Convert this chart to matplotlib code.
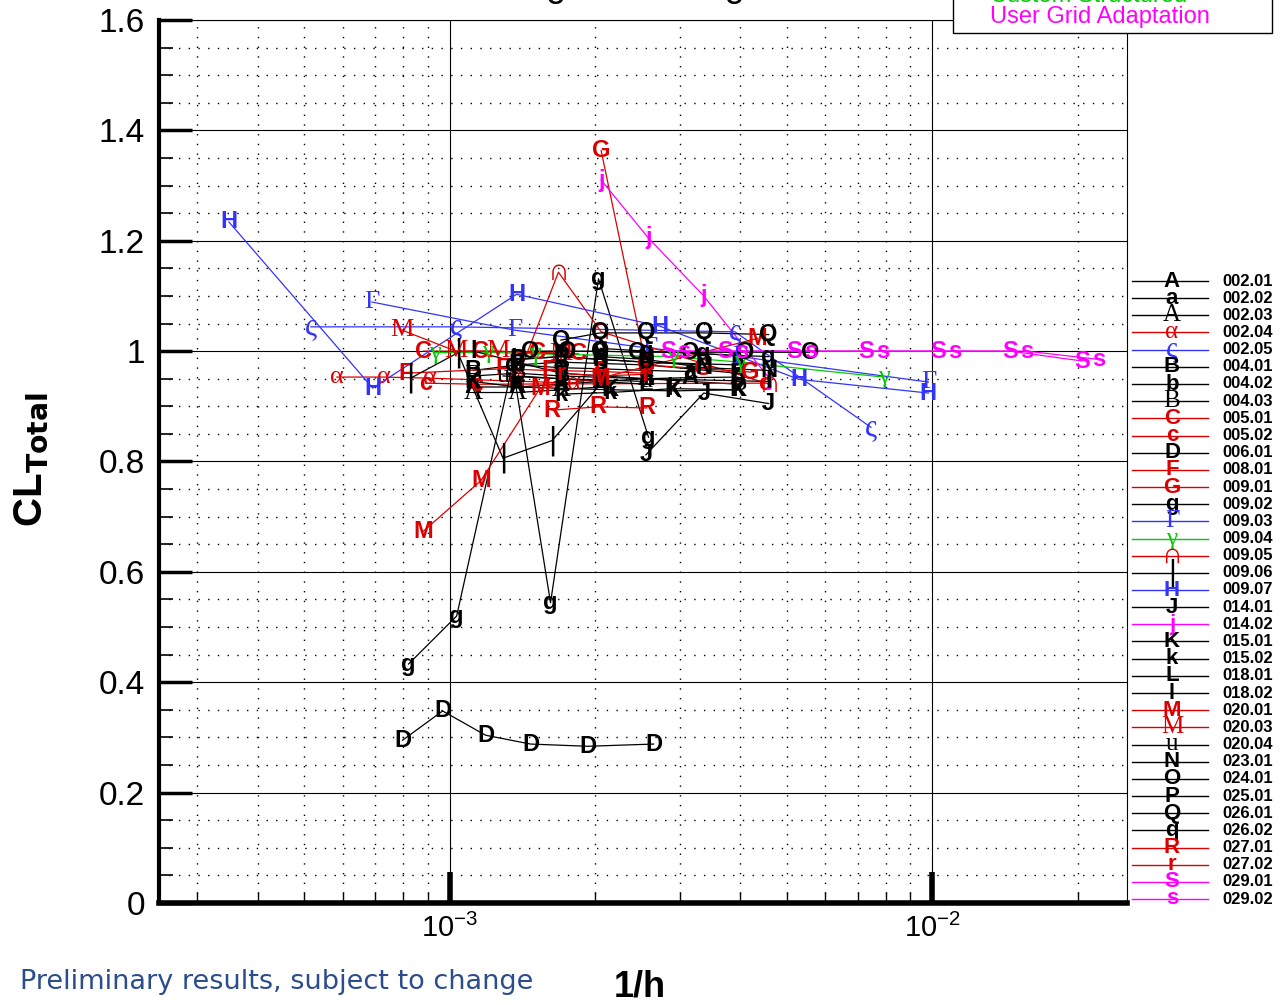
import matplotlib
matplotlib.use('Agg')
import matplotlib.pyplot as plt
import numpy as np
from matplotlib.lines import Line2D
from matplotlib.patches import Rectangle
from matplotlib.ticker import LogLocator, NullFormatter, MultipleLocator

plt.rcParams['font.family'] = ['Liberation Sans', 'DejaVu Sans']

# colours
BLK = 'black'
RED = '#dd0000'
BLU = '#3333ff'
GRN = '#00cc00'
MAG = '#ff00ff'

# legend order: label, marker char, colour
labels = ['002.01', '002.02', '002.03', '002.04', '002.05', '004.01', '004.02', '004.03',
          '005.01', '005.02', '006.01', '008.01', '009.01', '009.02', '009.03', '009.04',
          '009.05', '009.06', '009.07', '014.01', '014.02', '015.01', '015.02', '018.01',
          '018.02', '020.01', '020.03', '020.04', '023.01', '024.01', '025.01', '026.01',
          '026.02', '027.01', '027.02', '029.01', '029.02']
markers = ['A', 'a', 'A', 'α', 'ς', 'B', 'b', 'B', 'C', 'c', 'D', 'F', 'G', 'g', 'Γ', 'γ',
           '∩', '|', 'H', 'J', 'j', 'K', 'k', 'L', 'l', 'M', 'M', 'u', 'N', 'O', 'P', 'Q',
           'q', 'R', 'r', 'S', 's']
colors = [BLK, BLK, BLK, RED, BLU, BLK, BLK, BLK, RED, RED, BLK, RED, RED, BLK, BLU, GRN,
          RED, BLK, BLU, BLK, MAG, BLK, BLK, BLK, BLK, RED, RED, BLK, BLK, BLK, BLK, BLK,
          BLK, RED, RED, MAG, MAG]
serif = {'002.03', '002.04', '002.05', '004.03', '009.03', '009.04', '009.05', '020.03', '020.04'}

# data: 1/h and CL_Total per case
x_data = {
    '002.01': [1.12e-3, 1.38e-3, 1.70e-3, 2.05e-3, 2.55e-3, 3.15e-3, 3.95e-3],
    '002.02': [1.38e-3, 1.70e-3, 2.05e-3, 2.55e-3, 3.15e-3],
    '002.03': [1.12e-3, 1.38e-3, 1.70e-3, 2.05e-3],
    '002.04': [5.84e-4, 7.3e-4, 9.09e-4, 1.81e-3],
    '002.05': [5.16e-4, 1.03e-3, 3.9e-3, 7.46e-3],
    '004.01': [1.12e-3, 1.38e-3, 1.70e-3, 2.55e-3, 3.95e-3],
    '004.02': [1.38e-3, 1.70e-3, 2.05e-3, 2.55e-3, 3.95e-3],
    '004.03': [1.12e-3, 1.38e-3, 1.70e-3, 2.55e-3, 3.95e-3],
    '005.01': [8.83e-4, 1.16e-3, 1.52e-3, 1.85e-3],
    '005.02': [8.9e-4, 1.14e-3, 4.5e-3],
    '006.01': [7.99e-4, 9.67e-4, 1.187e-3, 1.471e-3, 1.931e-3, 2.645e-3],
    '008.01': [8.1e-4, 1.29e-3, 1.6e-3, 2.05e-3, 2.55e-3],
    '009.01': [2.06e-3, 2.55e-3, 3.36e-3, 4.2e-3],
    '009.02': [8.22e-4, 1.034e-3, 1.35e-3, 1.618e-3, 2.034e-3, 2.582e-3],
    '009.03': [6.9e-4, 1.363e-3, 2.6e-3, 4.0e-3, 9.81e-3],
    '009.04': [9.3e-4, 1.2e-3, 1.5e-3, 2.9e-3, 4.0e-3, 7.92e-3],
    '009.05': [1.38e-3, 1.68e-3, 2.06e-3, 4.6e-3],
    '009.06': [8.3e-4, 1.04e-3, 1.29e-3, 1.63e-3, 2.1e-3],
    '009.07': [3.49e-4, 6.93e-4, 1.376e-3, 2.73e-3, 5.28e-3, 9.81e-3],
    '014.01': [2.55e-3, 3.36e-3, 4.58e-3],
    '014.02': [2.06e-3, 2.58e-3, 3.36e-3, 4.6e-3],
    '015.01': [1.12e-3, 1.38e-3, 2.15e-3, 2.9e-3, 3.95e-3],
    '015.02': [1.70e-3, 2.15e-3, 2.9e-3, 3.95e-3],
    '018.01': [1.38e-3, 1.70e-3, 2.05e-3, 2.55e-3],
    '018.02': [1.12e-3, 1.70e-3, 2.55e-3, 4.58e-3],
    '020.01': [8.83e-4, 1.16e-3, 1.54e-3, 2.05e-3, 4.34e-3],
    '020.03': [7.97e-4, 1.03e-3, 1.26e-3, 1.70e-3],
    '020.04': [1.29e-3, 1.70e-3, 2.55e-3],
    '023.01': [2.05e-3, 2.55e-3, 3.36e-3, 4.58e-3],
    '024.01': [1.47e-3, 1.75e-3, 2.05e-3, 2.45e-3, 3.15e-3, 4.1e-3, 5.57e-3],
    '025.01': [1.38e-3, 1.70e-3, 2.05e-3, 2.55e-3, 3.36e-3],
    '026.01': [1.70e-3, 2.05e-3, 2.55e-3, 3.36e-3, 4.58e-3],
    '026.02': [2.05e-3, 2.55e-3, 3.36e-3, 4.58e-3],
    '027.01': [1.63e-3, 2.03e-3, 2.56e-3],
    '027.02': [1.70e-3, 2.05e-3, 2.55e-3],
    '029.01': [2.83e-3, 3.73e-3, 5.18e-3, 7.30e-3, 1.029e-2, 1.451e-2, 2.045e-2],
    '029.02': [3.05e-3, 4.03e-3, 5.59e-3, 7.88e-3, 1.11e-2, 1.565e-2, 2.21e-2],
}
cl_data = {
    '002.01': [0.935, 0.935, 0.94, 0.945, 0.95, 0.952, 0.953],
    '002.02': [0.975, 0.97, 0.968, 0.965, 0.963],
    '002.03': [0.925, 0.925, 0.93, 0.935],
    '002.04': [0.953, 0.953, 0.951, 0.942],
    '002.05': [1.044, 1.044, 1.035, 0.862],
    '004.01': [0.965, 0.975, 0.98, 0.975, 0.96],
    '004.02': [0.985, 0.99, 0.985, 0.98, 0.975],
    '004.03': [0.955, 0.96, 0.955, 0.95, 0.94],
    '005.01': [1.0, 1.0, 0.998, 0.995],
    '005.02': [0.942, 0.94, 0.942],
    '006.01': [0.295, 0.348, 0.304, 0.288, 0.284, 0.288],
    '008.01': [0.96, 0.968, 0.965, 0.963, 0.96],
    '009.01': [1.363, 0.975, 0.968, 0.962],
    '009.02': [0.433, 0.52, 0.975, 0.544, 1.131, 0.844],
    '009.03': [1.089, 1.038, 1.005, 0.99, 0.944],
    '009.04': [0.997, 0.998, 0.995, 0.99, 0.98, 0.953],
    '009.05': [0.95, 1.143, 1.035, 0.94],
    '009.06': [0.951, 0.997, 0.806, 0.838, 0.95],
    '009.07': [1.234, 0.933, 1.103, 1.045, 0.949, 0.924],
    '014.01': [0.812, 0.924, 0.905],
    '014.02': [1.31, 1.205, 1.10, 0.95],
    '015.01': [0.945, 0.935, 0.93, 0.928, 0.93],
    '015.02': [0.922, 0.925, 0.932, 0.93],
    '018.01': [0.955, 0.95, 0.945, 0.94],
    '018.02': [1.0, 0.96, 0.95, 0.945],
    '020.01': [0.674, 0.765, 0.933, 0.951, 1.023],
    '020.03': [1.038, 1.0, 1.0, 0.995],
    '020.04': [0.955, 0.95, 0.945],
    '023.01': [0.99, 0.985, 0.97, 0.965],
    '024.01': [1.0, 1.0, 1.0, 0.998, 0.998, 0.998, 0.998],
    '025.01': [0.985, 0.99, 0.985, 0.98, 0.975],
    '026.01': [1.02, 1.033, 1.033, 1.033, 1.03],
    '026.02': [1.005, 1.0, 0.995, 0.99],
    '027.01': [0.893, 0.899, 0.897],
    '027.02': [0.96, 0.955, 0.958],
    '029.01': [1.0, 1.0, 1.0, 1.0, 1.0, 1.0, 0.982],
    '029.02': [1.0, 1.0, 1.0, 1.0, 1.0, 1.0, 0.985],
}


def mk_font(lab, base):
    if lab in ('002.05', '009.05'):
        return dict(family=['Liberation Serif', 'DejaVu Serif'], fontweight='normal',
                    fontsize=base + 5)
    if lab in serif:
        return dict(family=['Liberation Serif', 'DejaVu Serif'], fontweight='normal',
                    fontsize=base + 2)
    if lab == '009.06':
        return dict(family=['DejaVu Sans'], fontweight='normal', fontsize=base + 5)
    return dict(family=['Liberation Sans', 'DejaVu Sans'], fontweight='bold', fontsize=base)


fig = plt.figure(figsize=(12.8, 10.05), dpi=100)
W, H = 1280, 1005
ax = fig.add_axes([159 / W, 1 - 903 / H, (1127 - 159) / W, (903 - 20) / H])

for lab, ch, col in zip(labels, markers, colors):
    xs = x_data[lab]
    ys = cl_data[lab]
    ax.plot(xs, ys, color=col, lw=0.9, zorder=3)
    for xv, yv in zip(xs, ys):
        ax.text(xv, yv, ch, color=col, ha='center', va='center', zorder=4,
                clip_on=True, **mk_font(lab, 17))

ax.set_xscale('log')
ax.set_xlim(2.5e-4, 2.53e-2)
ax.set_ylim(0, 1.6)
ax.xaxis.set_major_locator(LogLocator(base=10))
ax.xaxis.set_minor_locator(LogLocator(base=10, subs=np.arange(2, 10)))
ax.xaxis.set_minor_formatter(NullFormatter())
ax.yaxis.set_ticks([0, 0.2, 0.4, 0.6, 0.8, 1.0, 1.2, 1.4, 1.6])
ax.set_yticklabels(['0', '0.2', '0.4', '0.6', '0.8', '1', '1.2', '1.4', '1.6'])
ax.yaxis.set_minor_locator(MultipleLocator(0.05))

ax.grid(True, which='major', color='black', lw=0.8, zorder=1)
ax.grid(True, which='minor', color='black', lw=1.0, ls=(0, (1, 6)), zorder=1)

ax.tick_params(axis='both', which='major', direction='in', labelsize=24, pad=10)
ax.tick_params(axis='x', which='major', length=22, width=4, labelsize=21, pad=8)
ax.tick_params(axis='y', which='major', length=24, width=2.5)
ax.tick_params(axis='x', which='minor', direction='in', length=8, width=1)
ax.tick_params(axis='y', which='minor', direction='in', length=10, width=1.2)
ax.spines['bottom'].set_linewidth(4)
ax.spines['left'].set_linewidth(3)
ax.spines['top'].set_linewidth(0.8)
ax.spines['right'].set_linewidth(0.8)

ax.set_ylabel(r'CL$_{\mathbf{Total}}$', fontsize=29, fontweight='bold')
ax.yaxis.set_label_coords(-(159 - 50) / (1127 - 159), (903 - 460) / (903 - 20))
fig.text(640 / W, 1 - 987 / H, '1/h', fontsize=26, fontweight='bold', ha='center', va='center')
fig.text(20 / W, 1 - 982 / H, 'Preliminary results, subject to change', fontsize=19.5,
         color='#2c4d8c', ha='left', va='center', family=['DejaVu Sans'])

# clipped title at top
fig.text(655 / W, 1 + 4 / H, 'Lift grid convergence', fontsize=26, ha='center', va='baseline')

# legend on the right
y0, dy = 281, (899 - 281) / 36
for i, (lab, ch, col) in enumerate(zip(labels, markers, colors)):
    yp = 1 - (y0 + i * dy) / H
    fig.add_artist(Line2D([1132 / W, 1208 / W], [yp, yp], color=col, lw=1.0,
                          transform=fig.transFigure))
    fig.text(1172 / W, yp, ch, color=col, ha='center', va='center', **mk_font(lab, 16))
    fig.text(1222 / W, yp, lab, fontsize=12, fontweight='bold', ha='left', va='center')

# top right box legend
fig.add_artist(Rectangle((953 / W, 1 - 33 / H), (1272 - 953) / W, 40 / H,
                         transform=fig.transFigure, facecolor='white', edgecolor='black',
                         lw=1.0, zorder=10))
fig.text(990 / W, 1 + 4 / H, 'Custom Structured', color=GRN, fontsize=17, ha='left',
         va='center', zorder=11)
fig.text(990 / W, 1 - 17 / H, 'User Grid Adaptation', color=MAG, fontsize=17, ha='left',
         va='center', zorder=11)

fig.savefig('out.png', dpi=100)
